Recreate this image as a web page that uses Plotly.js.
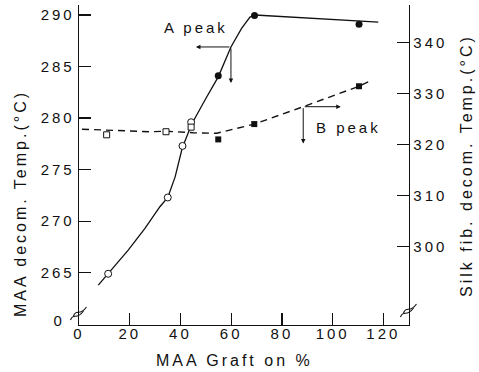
<!DOCTYPE html>
<html><head><meta charset="utf-8">
<script src="https://cdn.plot.ly/plotly-3.0.1.min.js"></script>
<style>
html,body{margin:0;padding:0;background:#fff;}
#chart{width:479px;height:372px;}
#chart text{letter-spacing:3px;}
</style></head><body><div id="chart"></div>
<script>
// ---- data ----
// A peak (MAA decomposition, left axis)
const openAx = [11.5, 35.0, 40.8, 44.2];
const openAy = [264.9, 272.3, 277.3, 279.6];
const filledAx = [54.9, 69.2, 110.4];
const filledAy = [284.1, 289.95, 289.1];
const curveAx = [7.6, 11.5, 19.4, 26.0, 31.9, 35.0, 37.9, 40.7, 44.4, 50, 54.9, 59.9, 64.1, 67.4, 69.4, 118];
const curveAy = [263.8, 264.9, 267.2, 269.3, 271.4, 272.3, 274.3, 277.1, 279.4, 281.9, 284.0, 286.9, 288.7, 289.8, 290.0, 289.3];
// B peak (silk fibroin decomposition, right axis)
const openBx = [10.9, 34.3, 44.2];
const openBy = [321.9, 322.5, 323.4];
const filledBx = [54.9, 69.1, 110.4];
const filledBy = [321.0, 324.0, 331.4];
const curveBx = [1.2, 27.9, 34.3, 45, 54.3, 69.1, 88.4, 110.4, 115.4];
const curveBy = [323.0, 322.5, 322.6, 322.3, 322.2, 324.0, 327.4, 331.4, 332.6];
// ticks
const xTicks = [0, 20, 40, 60, 80, 100, 120];
const yLeftTicks = [265, 270, 275, 280, 285, 290];
const yRightTicks = [300, 310, 320, 330, 340];
// arrow indicators
const arrowA = {x: 59.9, y: 286.9, left: 46.1, down: 283.4};
const arrowB = {x: 88.4, y: 327.4, right: 103.2, down: 320.2};

const FONT = '"Liberation Sans", Arial, Helvetica, sans-serif';
const K = '#111';

const traces = [
  {x: curveAx, y: curveAy, mode: 'lines', line: {color: K, width: 1.3}, yaxis: 'y', hoverinfo: 'skip'},
  {x: curveBx, y: curveBy, mode: 'lines', line: {color: K, width: 1.4, dash: '7px,5px'}, yaxis: 'y2', hoverinfo: 'skip'},
  {x: openAx, y: openAy, mode: 'markers', marker: {symbol: 'circle', size: 7, color: '#fff', line: {color: K, width: 1}}, yaxis: 'y'},
  {x: filledAx, y: filledAy, mode: 'markers', marker: {symbol: 'circle', size: 7, color: K}, yaxis: 'y'},
  {x: openBx, y: openBy, mode: 'markers', marker: {symbol: 'square', size: 6, color: '#fff', line: {color: K, width: 1}}, yaxis: 'y2'},
  {x: filledBx, y: filledBy, mode: 'markers', marker: {symbol: 'square', size: 6, color: K}, yaxis: 'y2'}
];

// pixel -> paper helpers for decorations
const L = 79, R = 409, T = 5, B = 325;
const px = v => (v - L) / (R - L);
const py = v => (B - v) / (B - T);
function wave(cx, cy) {
  const p = (a, b) => px(cx + a) + ',' + py(cy + b);
  return 'M' + p(-7, 5) + ' C' + p(-4, -3) + ' ' + p(-1, 6) + ' ' + p(6, -4);
}
const shapes = [];
[[L, 313], [R, 310]].forEach(([cx, cy]) => {
  [[-1.5, 2], [1.5, -2]].forEach(([dx, dy]) => {
    shapes.push({type: 'path', xref: 'paper', yref: 'paper', path: wave(cx + dx, cy + dy), line: {color: K, width: 1.1}});
  });
});

const ann = (o) => Object.assign({showarrow: false, font: {family: FONT, size: 15, color: K}}, o);
const arrow = (o) => Object.assign({text: '', showarrow: true, arrowhead: 2, arrowsize: 0.9, arrowwidth: 1, arrowcolor: K, standoff: 0, startstandoff: 0}, o);

const annotations = [
  ann({text: 'MAA decom. Temp.(°C)', xref: 'paper', yref: 'paper', x: px(20), y: py(204), textangle: -90, xanchor: 'center', yanchor: 'middle', font: {family: FONT, size: 16, color: K}}),
  ann({text: 'Silk fib. decom. Temp.(°C)', xref: 'paper', yref: 'paper', x: px(466), y: py(165), textangle: -90, xanchor: 'center', yanchor: 'middle', font: {family: FONT, size: 16, color: K}}),
  ann({text: 'MAA Graft on %', xref: 'paper', yref: 'paper', x: px(234), y: py(360), xanchor: 'center', yanchor: 'middle', font: {family: FONT, size: 16, color: K}}),
  ann({text: '0', xref: 'paper', yref: 'paper', x: px(59), y: py(320), xanchor: 'center', yanchor: 'middle'}),
  ann({text: 'A peak', xref: 'x', yref: 'y', x: 46.1, y: 288.74, xanchor: 'center', yanchor: 'middle'}),
  ann({text: 'B peak', xref: 'x', yref: 'y2', x: 106.2, y: 323.3, xanchor: 'center', yanchor: 'middle'}),
  arrow({xref: 'x', yref: 'y', axref: 'x', ayref: 'y', x: arrowA.left, y: arrowA.y, ax: arrowA.x, ay: arrowA.y}),
  arrow({xref: 'x', yref: 'y', axref: 'x', ayref: 'y', x: arrowA.x, y: arrowA.down, ax: arrowA.x, ay: arrowA.y}),
  arrow({xref: 'x', yref: 'y2', axref: 'x', ayref: 'y2', x: arrowB.right, y: arrowB.y, ax: arrowB.x, ay: arrowB.y}),
  arrow({xref: 'x', yref: 'y2', axref: 'x', ayref: 'y2', x: arrowB.x, y: arrowB.down, ax: arrowB.x, ay: arrowB.y})
];

const axisBase = {
  showgrid: false, zeroline: false, showline: true, linecolor: K, linewidth: 1.3,
  ticks: 'inside', ticklen: 12, tickwidth: 1.2, tickcolor: K,
  tickfont: {family: FONT, size: 15, color: K}, fixedrange: true
};

const layout = {
  width: 479, height: 372,
  margin: {l: L, r: 479 - R, t: T, b: 372 - B, pad: 0},
  paper_bgcolor: '#fff', plot_bgcolor: '#fff',
  showlegend: false,
  font: {family: FONT, color: K},
  xaxis: Object.assign({}, axisBase, {range: [0, 130.1], tickvals: xTicks, ticktext: xTicks.map(String), ticklabelstandoff: -5}),
  yaxis: Object.assign({}, axisBase, {range: [259.93, 290.97], tickvals: yLeftTicks, ticktext: yLeftTicks.map(String), ticklabelstandoff: 0}),
  yaxis2: Object.assign({}, axisBase, {overlaying: 'y', side: 'right', range: [284.68, 347.3], tickvals: yRightTicks, ticktext: yRightTicks.map(String), ticklabelstandoff: 0}),
  shapes: shapes,
  annotations: annotations
};

Plotly.newPlot('chart', traces, layout, {displayModeBar: false, staticPlot: true});
</script></body></html>
